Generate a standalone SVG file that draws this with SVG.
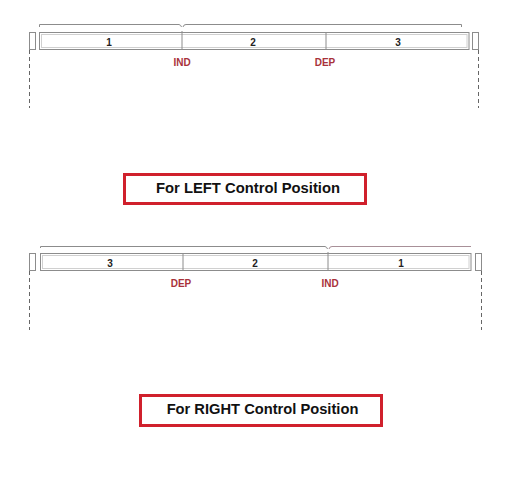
<svg xmlns="http://www.w3.org/2000/svg" width="518" height="484" viewBox="0 0 518 484">
<style>
.bar{fill:#fff;stroke:#8c8c8c;stroke-width:1}
.inner{fill:none;stroke:#d0d0d0;stroke-width:1}
.end{fill:#fff;stroke:#8c8c8c;stroke-width:1}
.brk{fill:none;stroke:#8c8c8c;stroke-width:1}
.brk2{fill:none;stroke:#a89098;stroke-width:1}
.dash{fill:none;stroke:#666;stroke-width:1;stroke-dasharray:4 3}
.num{font-family:"Liberation Sans",Arial,sans-serif;font-size:10px;font-weight:bold;fill:#222;text-anchor:middle}
.lbl{font-family:"Liberation Sans",Arial,sans-serif;font-size:10px;font-weight:bold;fill:#a8323a;text-anchor:middle}
.cap{fill:#fff;stroke:#d0202c;stroke-width:3}
.capt{font-family:"Liberation Sans",Arial,sans-serif;font-weight:bold;fill:#111;text-anchor:middle}
</style>
<rect width="518" height="484" fill="#fff"/>
<g id="left-position">
  <path class="brk" d="M39.5,27 V24.5 H179 Q181,25 181.5,27"/>
  <path class="brk" d="M183,27 Q183.5,24.5 186,24.5 H461.5 V27"/>
  <rect class="end" x="29.5" y="32.5" width="6" height="17"/>
  <rect class="end" x="472.5" y="32.5" width="6" height="17"/>
  <rect class="bar" x="39.5" y="32.5" width="429.5" height="17"/>
  <rect class="inner" x="41.5" y="34.5" width="425.5" height="13"/>
  <line class="brk" x1="182" y1="31" x2="182" y2="50"/>
  <line class="brk" x1="326" y1="32" x2="326" y2="50"/>
  <text class="num" x="109" y="45.5">1</text>
  <text class="num" x="253" y="45.5">2</text>
  <text class="num" x="398" y="45.5">3</text>
  <text class="lbl" x="182" y="65.5">IND</text>
  <text class="lbl" x="325" y="65.5">DEP</text>
</g>
<g id="right-position">
  <path class="brk" d="M40.5,248 V246.5 H325 Q327,247 327.5,249"/>
  <path class="brk2" d="M329,249 Q329.5,246.5 332,246.5 H471"/>
  <rect class="end" x="29.5" y="253.5" width="6" height="17"/>
  <rect class="end" x="475.5" y="253.5" width="6" height="17"/>
  <rect class="bar" x="40.5" y="253.5" width="430.5" height="17"/>
  <rect class="inner" x="42.5" y="255.5" width="426.5" height="13"/>
  <line class="brk" x1="183" y1="253" x2="183" y2="271"/>
  <line class="brk" x1="328" y1="252" x2="328" y2="271"/>
  <text class="num" x="110" y="266.5">3</text>
  <text class="num" x="255" y="266.5">2</text>
  <text class="num" x="401" y="266.5">1</text>
  <text class="lbl" x="181" y="286.5">DEP</text>
  <text class="lbl" x="330" y="286.5">IND</text>
</g>
<g id="connectors">
  <line class="dash" x1="29.5" y1="50" x2="29.5" y2="108"/>
  <line class="dash" x1="478.5" y1="50" x2="478.5" y2="108"/>
  <line class="dash" x1="29.5" y1="271" x2="29.5" y2="330"/>
  <line class="dash" x1="481.5" y1="271" x2="481.5" y2="330"/>
</g>
<g id="caption-left">
  <rect class="cap" x="124.5" y="174.5" width="241" height="29"/>
  <text class="capt" x="248" y="193" font-size="14.8">For LEFT Control Position</text>
</g>
<g id="caption-right">
  <rect class="cap" x="140.5" y="395.5" width="241" height="30"/>
  <text class="capt" x="262.5" y="414" font-size="14.7">For RIGHT Control Position</text>
</g>
</svg>
